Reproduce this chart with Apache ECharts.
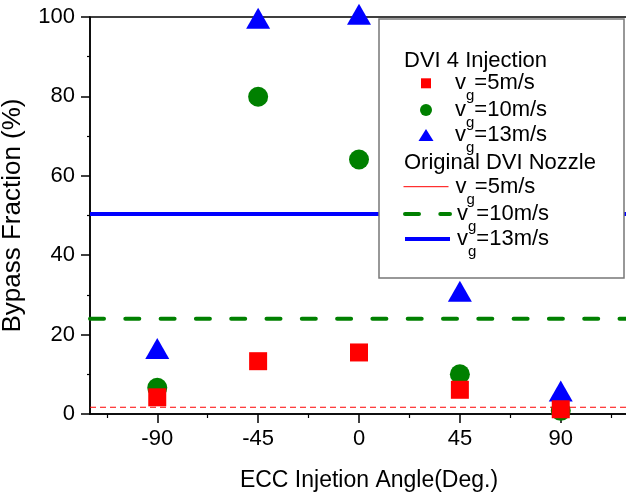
<!DOCTYPE html>
<html>
<head>
<meta charset="utf-8">
<script src="https://cdn.jsdelivr.net/npm/echarts@6/dist/echarts.min.js"></script>
<style>html,body{margin:0;padding:0;background:#fff;}#c{width:626px;height:496px;}</style>
</head>
<body>
<div id="c"></div>
<script>
// ---- data ----
const angles = [-90, -45, 0, 45, 90];
const inj5 = [4.2, 13.3, 15.5, 6.1, 1.2];
const inj10 = [6.6, 79.9, 64.1, 10.0, 0.8];
const inj13 = [16.5, 99.7, 100.7, 30.9, 5.8];
const nozzle5 = 1.7;
const nozzle10 = 24.0;
const nozzle13 = 50.4;
const xTicks = [-90, -45, 0, 45, 90];
const xMinorTicks = [-112.5, -67.5, -22.5, 22.5, 67.5, 112.5];
const xRange = [-120, 120];
const yRange = [0, 100];
const speeds = ['5m/s', '10m/s', '13m/s'];
const groupTitles = ['DVI 4 Injection', 'Original DVI Nozzle'];
const xTitle = 'ECC Injetion Angle(Deg.)';
const yTitle = 'Bypass Fraction (%)';

const FONT = '"Liberation Sans", Arial, sans-serif';
const pts = vals => angles.map((a, i) => [a, vals[i]]);
const hline = v => [[xRange[0], v], [xRange[1], v]];

const speedOf = {inj5: speeds[0], inj10: speeds[1], inj13: speeds[2], noz5: speeds[0], noz10: speeds[1], noz13: speeds[2]};

const LS5 = {color: '#ff0000', width: 1, type: [6, 4]};
const LS10 = {color: '#008000', width: 4, type: [14, 21.3], cap: 'round'};
const LS13 = {color: '#0000ff', width: 4};

function mkRich(padLeft) {
  return {
    v: {fontSize: 22, fontFamily: FONT, color: '#000', lineHeight: 22, padding: [0, 0, 0, padLeft]},
    g: {fontSize: 15, fontFamily: FONT, color: '#000', lineHeight: 15, padding: [26, 0, 0, 0]},
    t: {fontSize: 22, fontFamily: FONT, color: '#000', lineHeight: 22}
  };
}
const TEXT_X = 455;
function mkLegend(name, centerX, rowCenter, w, h, lineStyle) {
  const left = centerX - w / 2;
  const pad = TEXT_X - (left + w + 5);
  const lg = {
    data: [name], left: left, top: rowCenter - 20.5, padding: 0, orient: 'vertical',
    itemWidth: w, itemHeight: h, z: 60, selectedMode: false, symbolKeepAspect: false,
    formatter: n => '{v|v}{g|g}{t|=' + speedOf[n] + '}',
    textStyle: {rich: mkRich(pad)}
  };
  if (lineStyle) {
    lg.itemStyle = {opacity: 0};
    lg.lineStyle = Object.assign({opacity: 1}, lineStyle);
  }
  return lg;
}

const chart = echarts.init(document.getElementById('c'), null, {renderer: 'canvas'});
chart.setOption({
  animation: false,
  backgroundColor: '#fff',
  grid: {left: 90, right: -2, top: 17, bottom: 82, containLabel: false, outerBoundsMode: 'none',
         show: true, borderColor: '#000', borderWidth: 1.5, backgroundColor: 'transparent'},
  xAxis: [{
    type: 'value', min: xRange[0], max: xRange[1], position: 'bottom',
    name: xTitle, nameLocation: 'middle', nameGap: 55,
    nameTextStyle: {fontSize: 23, fontFamily: FONT, color: '#000', padding: [0, 0, 0, 20]},
    axisLine: {show: true, onZero: false, lineStyle: {color: '#000', width: 1.5}},
    axisTick: {show: true, length: 9, customValues: xTicks, lineStyle: {color: '#000', width: 1.5}},
    axisLabel: {show: true, customValues: xTicks, margin: 14, fontSize: 22, fontFamily: FONT, color: '#000'},
    splitLine: {show: false}
  }, {
    type: 'value', min: xRange[0], max: xRange[1], position: 'bottom', offset: 0,
    axisLine: {show: false, onZero: false},
    axisTick: {show: true, length: 4, customValues: xMinorTicks, lineStyle: {color: '#000', width: 1.2}},
    axisLabel: {show: false},
    splitLine: {show: false}
  }],
  yAxis: {
    type: 'value', min: yRange[0], max: yRange[1], interval: 20,
    name: yTitle, nameLocation: 'middle', nameGap: 64,
    nameTextStyle: {fontSize: 26, fontFamily: FONT, color: '#000'},
    axisLine: {show: true, onZero: false, lineStyle: {color: '#000', width: 1.5}},
    axisTick: {show: true, length: 9, lineStyle: {color: '#000', width: 1.5}},
    minorTick: {show: true, splitNumber: 2, length: 3, lineStyle: {color: '#000', width: 1.2}},
    axisLabel: {margin: 15, fontSize: 22, fontFamily: FONT, color: '#000'},
    splitLine: {show: false}
  },
  legend: [
    mkLegend('inj5', 426, 83.3, 10, 10, null),
    mkLegend('inj10', 426, 110, 12, 12, null),
    mkLegend('inj13', 426, 135, 15, 12, null),
    mkLegend('noz5', 425.5, 186.7, 45, 12, {color: '#ff0000', width: 1, type: 'solid'}),
    mkLegend('noz10', 425.5, 214, 45, 12, LS10),
    mkLegend('noz13', 425.5, 239, 45, 12, LS13)
  ],
  graphic: [
    {type: 'rect', z: 50, shape: {x: 379, y: 19, width: 245, height: 259},
     style: {fill: '#fff', stroke: '#777', lineWidth: 1.5}},
    {type: 'text', z: 51, x: 404, y: 61,
     style: {text: groupTitles[0], font: '22px ' + FONT, fill: '#000', verticalAlign: 'middle'}},
    {type: 'text', z: 51, x: 404, y: 163,
     style: {text: groupTitles[1], font: '22px ' + FONT, fill: '#000', verticalAlign: 'middle'}}
  ],
  series: [
    {name: 'noz5', type: 'line', data: hline(nozzle5), symbol: 'none', z: 2,
     lineStyle: LS5, itemStyle: {color: '#ff0000'}},
    {name: 'noz10', type: 'line', data: hline(nozzle10), symbol: 'none', z: 2,
     lineStyle: LS10, itemStyle: {color: '#008000'}},
    {name: 'noz13', type: 'line', data: hline(nozzle13), symbol: 'none', z: 2,
     lineStyle: LS13, itemStyle: {color: '#0000ff'}},
    {name: 'inj10', type: 'scatter', data: pts(inj10), symbol: 'circle', symbolSize: 20, z: 3, clip: false,
     itemStyle: {color: '#008000', opacity: 1}},
    {name: 'inj13', type: 'scatter', data: pts(inj13), symbol: 'triangle', symbolSize: [24, 21], z: 4, clip: false,
     itemStyle: {color: '#0000ff', opacity: 1}},
    {name: 'inj5', type: 'scatter', data: pts(inj5), symbol: 'rect', symbolSize: 18, z: 5, clip: false,
     itemStyle: {color: '#ff0000', opacity: 1}}
  ]
});
</script>
</body>
</html>
